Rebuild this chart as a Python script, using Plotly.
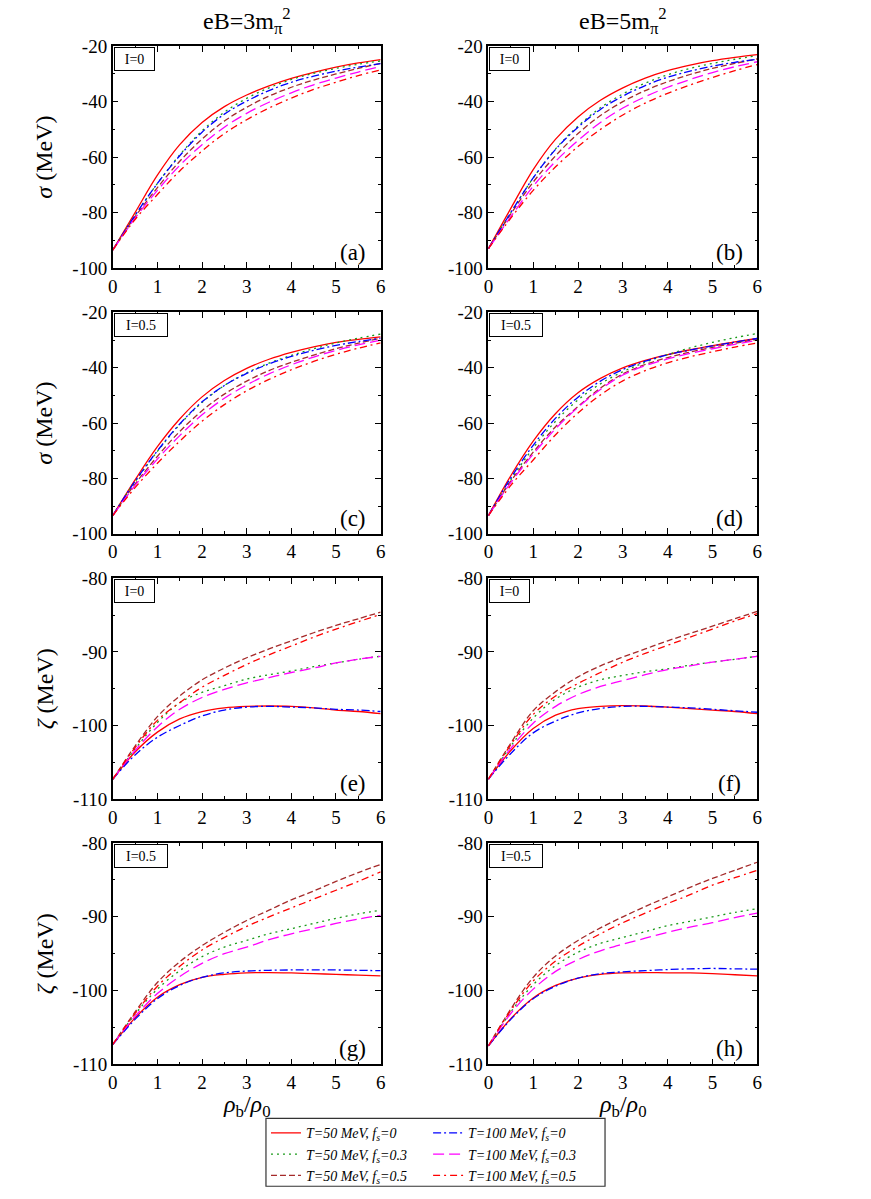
#Sigma and zeta fields vs baryon density, 4x2 panel figure
import plotly.graph_objects as go

#density grid (rho_b/rho_0) shared by every curve
rho = [0, 0.5, 1, 1.5, 2, 2.5, 3, 3.5, 4, 4.5, 5, 5.5, 6]

#series order in every panel:
#T=50 fs=0, T=50 fs=0.3, T=50 fs=0.5, T=100 fs=0, T=100 fs=0.3, T=100 fs=0.5
sigma_a = [[-93.5, -80, -66.5, -55.5, -47.5, -41.8, -37.6, -34.3, -31.6, -29.4, -27.5, -26, -24.8],
           [-93.5, -81, -69.5, -59.2, -50.5, -43.8, -38.8, -35, -32, -29.8, -28, -26.5, -25.3],
           [-93.5, -81.5, -71, -61.5, -53.5, -47, -42, -38, -34.8, -32.2, -30, -28, -26.2],
           [-93.5, -81, -69.5, -59.5, -51, -44.5, -39.8, -36, -33, -30.8, -29, -27.5, -26.3],
           [-93.5, -82, -72, -63, -55.5, -49.2, -44.2, -40.2, -36.8, -33.9, -31.5, -29.3, -27.3],
           [-93.5, -82.5, -73.5, -65, -57.8, -51.5, -46.5, -42.3, -38.7, -35.6, -33, -30.6, -28.5]]
sigma_b = [[-93, -78.5, -64.5, -53.5, -45.5, -39.5, -35, -31.5, -28.8, -26.8, -25.2, -24, -23],
           [-93, -80, -67.5, -57, -48.8, -42.2, -37.2, -33.3, -30.3, -28, -26.2, -24.7, -23.4],
           [-93, -80.5, -69, -59.5, -51.5, -45, -40, -36, -32.8, -30.2, -28, -26.2, -24.6],
           [-93, -80, -67.5, -57.2, -49.2, -42.8, -38, -34.2, -31.2, -29, -27.2, -25.8, -24.7],
           [-93, -81.5, -70.5, -61.5, -54, -47.5, -42.3, -38.2, -34.8, -32, -29.5, -27.4, -25.6],
           [-93, -82, -72, -63.5, -56.2, -50, -44.8, -40.5, -37, -34, -31.3, -28.8, -26.6]]
sigma_c = [[-93.4, -80.5, -68.5, -58.5, -50.5, -44.6, -40.2, -36.9, -34.4, -32.4, -30.8, -29.7, -28.8],
           [-93.4, -81.2, -70.2, -60.5, -52.5, -46.4, -41.8, -38.3, -35.5, -33.1, -31, -29.3, -27.8],
           [-93.4, -82, -72, -63, -55.5, -49.5, -44.8, -41, -38, -35.4, -33.1, -31.1, -29.3],
           [-93.4, -81, -70, -60.3, -52.3, -46.4, -42, -38.6, -35.9, -33.7, -31.9, -30.5, -29.3],
           [-93.4, -82.5, -73, -64.5, -57, -51, -46.2, -42.2, -38.9, -36.1, -33.7, -31.7, -30],
           [-93.4, -83.3, -74.5, -66.5, -59.3, -53.3, -48.3, -44.2, -40.7, -37.7, -35.1, -32.9, -31]]
sigma_d = [[-93.4, -79, -66.5, -56.5, -49, -43.8, -40, -37.3, -35.2, -33.5, -32, -30.6, -29.4],
           [-93.4, -80.5, -69, -59.3, -51.6, -45.8, -41.4, -38, -35.2, -32.8, -30.8, -29.1, -27.6],
           [-93.4, -81, -70.5, -61.3, -54, -47.3, -42.2, -38.8, -36.3, -34.3, -32.6, -31.1, -29.8],
           [-93.4, -79.8, -68, -58.2, -50.6, -44.8, -40.6, -37.6, -35.3, -33.6, -32.1, -30.7, -29.4],
           [-93.4, -81.5, -71.2, -62, -54.3, -47.8, -42.6, -39.2, -36.8, -34.8, -33.1, -31.5, -30],
           [-93.4, -82.5, -73.3, -64.2, -56.3, -49.8, -44.7, -41, -38.2, -36, -34.2, -32.5, -31]]
zeta_e = [[-107.3, -103.6, -100.9, -99.1, -98.1, -97.6, -97.4, -97.35, -97.4, -97.6, -97.9, -98.1, -98.4],
          [-107.3, -103.2, -99.6, -96.9, -95.5, -94.6, -93.7, -93.1, -92.6, -92, -91.5, -91, -90.6],
          [-107.3, -102.8, -98.8, -96, -93.8, -92.2, -90.8, -89.6, -88.5, -87.4, -86.4, -85.5, -84.6],
          [-107.3, -104, -101.6, -100, -98.7, -97.9, -97.5, -97.4, -97.5, -97.6, -97.8, -97.9, -98.1],
          [-107.3, -103.4, -100.2, -97.8, -96.2, -95.1, -94.2, -93.5, -92.8, -92.2, -91.5, -91, -90.6],
          [-107.3, -103, -99.3, -96.9, -94.8, -93.2, -91.7, -90.4, -89.2, -88, -86.9, -85.9, -84.9]]
zeta_f = [[-107.3, -103.4, -100.4, -98.6, -97.7, -97.4, -97.3, -97.35, -97.5, -97.7, -97.9, -98.1, -98.4],
          [-107.3, -102.8, -99, -96.4, -94.8, -93.8, -93.2, -92.7, -92.3, -91.8, -91.4, -91, -90.6],
          [-107.3, -102.4, -98, -95.4, -93.4, -91.9, -90.7, -89.6, -88.5, -87.5, -86.5, -85.5, -84.5],
          [-107.3, -103.8, -101, -99.4, -98.3, -97.7, -97.4, -97.4, -97.5, -97.6, -97.8, -98, -98.2],
          [-107.3, -103.1, -99.7, -97.4, -95.8, -94.7, -93.9, -93.1, -92.4, -91.9, -91.4, -91, -90.6],
          [-107.3, -102.6, -98.5, -96, -94.3, -92.8, -91.4, -90.2, -89.1, -88, -86.9, -85.8, -84.8]]
zeta_g = [[-107.3, -103.7, -100.9, -99.2, -98.2, -97.8, -97.6, -97.55, -97.6, -97.7, -97.8, -97.9, -98],
          [-107.3, -103.2, -99.8, -97.3, -95.4, -94.1, -93.2, -92.3, -91.6, -90.9, -90.2, -89.6, -89.1],
          [-107.3, -102.9, -98.9, -96.1, -93.9, -92.1, -90.5, -89.1, -87.7, -86.5, -85.2, -84, -82.9],
          [-107.3, -103.9, -101.1, -99.3, -98.2, -97.6, -97.35, -97.25, -97.2, -97.2, -97.2, -97.25, -97.3],
          [-107.3, -103.5, -100.4, -98.1, -96.3, -95, -94.1, -93.1, -92.3, -91.6, -90.9, -90.3, -89.8],
          [-107.3, -103.1, -99.4, -96.7, -94.5, -92.8, -91.3, -90, -88.8, -87.6, -86.4, -85.2, -83.9]]
zeta_h = [[-107.5, -103.8, -101, -99.3, -98.3, -97.8, -97.6, -97.55, -97.6, -97.6, -97.7, -97.85, -98],
          [-107.5, -102.9, -99.2, -96.6, -94.8, -93.6, -92.8, -92, -91.2, -90.6, -90, -89.4, -88.9],
          [-107.5, -102.5, -98.2, -95.3, -93.2, -91.5, -90, -88.6, -87.3, -86, -84.8, -83.7, -82.6],
          [-107.5, -103.9, -101.1, -99.4, -98.3, -97.7, -97.45, -97.3, -97.15, -97.05, -97, -97.05, -97.1],
          [-107.5, -103.1, -99.8, -97.4, -95.8, -94.6, -93.7, -92.9, -92.1, -91.4, -90.8, -90.1, -89.5],
          [-107.5, -102.7, -98.7, -96, -94, -92.3, -90.8, -89.5, -88.2, -87, -85.7, -84.7, -83.7]]

series_names = ["T=50 MeV, f<sub>s</sub>=0", "T=50 MeV, f<sub>s</sub>=0.3", "T=50 MeV, f<sub>s</sub>=0.5",
                "T=100 MeV, f<sub>s</sub>=0", "T=100 MeV, f<sub>s</sub>=0.3", "T=100 MeV, f<sub>s</sub>=0.5"]
series_colours = ["#ff0000", "#1a9a1a", "#a52a2a", "#0000ff", "#ff00ff", "#ff0000"]
series_dash = ["solid", "2px,4px", "6px,3px", "8px,3px,2px,3px", "11px,5px", "7px,4px,2px,4px"]
series_legend = ["legend", "legend", "legend", "legend2", "legend2", "legend2"]

#panel setup: data, row, column, letter, isospin text
panels = [(sigma_a, 0, 0, "(a)", "I=0"), (sigma_b, 0, 1, "(b)", "I=0"),
          (sigma_c, 1, 0, "(c)", "I=0.5"), (sigma_d, 1, 1, "(d)", "I=0.5"),
          (zeta_e, 2, 0, "(e)", "I=0"), (zeta_f, 2, 1, "(f)", "I=0"),
          (zeta_g, 3, 0, "(g)", "I=0.5"), (zeta_h, 3, 1, "(h)", "I=0.5")]

W, H = 871, 1199
col_left = [109, 489]
col_right = [380, 761]
font_family = "Liberation Serif"


#the photographed page comes out slightly squeezed in height, so vertical spots are
#given where they should land on the picture and converted here to paper fractions
def page_y(px):
    return 1 - ((px - 8.75) / 0.9833) / H


row_top = [45, 311.5, 577.5, 842.5]
row_bottom = [267, 533, 798.5, 1064]

fig = go.Figure()
annotations = []

for k, (data, row, col, letter, iso) in enumerate(panels, start=1):
    suffix = "" if k == 1 else str(k)
    for i in range(6):
        fig.add_trace(go.Scatter(
            x=rho, y=data[i], mode="lines",
            name=series_names[i],
            line=dict(color=series_colours[i], dash=series_dash[i], width=1.3,
                      shape="spline", smoothing=1.0),
            xaxis="x" + suffix, yaxis="y" + suffix,
            showlegend=(k == 1), legend=series_legend[i],
            hoverinfo="skip"))

    if row < 2:
        yvals = [-100, -80, -60, -40, -20]
        yrange = [-100, -20]
        minor_dy = 10
    else:
        yvals = [-110, -100, -90, -80]
        yrange = [-110, -80]
        minor_dy = 5

    axis_common = dict(showline=True, linecolor="black", linewidth=1.5, mirror="allticks",
                       ticks="inside", ticklen=6, tickwidth=1, tickcolor="black",
                       showgrid=False, zeroline=False,
                       tickfont=dict(family=font_family, size=19, color="black"))
    fig.layout["xaxis" + suffix] = dict(
        axis_common,
        domain=[col_left[col] / W, col_right[col] / W],
        range=[0, 6], anchor="y" + suffix,
        tickvals=[0, 1, 2, 3, 4, 5, 6],
        minor=dict(dtick=0.5, ticks="inside", ticklen=3, tickcolor="black", showgrid=False))
    fig.layout["yaxis" + suffix] = dict(
        axis_common,
        domain=[page_y(row_bottom[row]), page_y(row_top[row])],
        range=yrange, anchor="x" + suffix,
        tickvals=yvals, ticktext=[str(v) for v in yvals],
        minor=dict(dtick=minor_dy, ticks="inside", ticklen=3, tickcolor="black", showgrid=False))

    xd = ("x" if k == 1 else "x" + str(k)) + " domain"
    yd = ("y" if k == 1 else "y" + str(k)) + " domain"
    #panel letter
    annotations.append(dict(xref=xd, yref=yd, x=0.895, y=0.07, text=letter, showarrow=False,
                            xanchor="center", yanchor="middle",
                            font=dict(family=font_family, size=23, color="black")))
    #isospin box
    annotations.append(dict(xref=xd, yref=yd, x=0, y=1, text=iso, showarrow=False,
                            xanchor="left", yanchor="top", xshift=1, yshift=-1,
                            width=37 if iso == "I=0" else 50, height=20,
                            bordercolor="black", borderwidth=1, bgcolor="white",
                            font=dict(family=font_family, size=14, color="black")))

#column titles and x axis titles
for col, txt in enumerate(["eB=3m<sub>π</sub><sup>2</sup>", "eB=5m<sub>π</sub><sup>2</sup>"]):
    annotations.append(dict(xref="paper", yref="paper",
                            x=(col_left[col] + col_right[col]) / 2 / W, y=page_y(20),
                            text=txt, showarrow=False, xanchor="center", yanchor="middle",
                            font=dict(family=font_family, size=24, color="black")))
    annotations.append(dict(xref="paper", yref="paper",
                            x=(col_left[col] + col_right[col]) / 2 / W, y=page_y(1106),
                            text="<i>ρ</i><sub>b</sub>/<i>ρ</i><sub>0</sub>", showarrow=False,
                            xanchor="center", yanchor="middle",
                            font=dict(family=font_family, size=24, color="black")))

#y axis titles
for row in range(4):
    txt = "<i>σ</i> (MeV)" if row < 2 else "<i>ζ</i> (MeV)"
    annotations.append(dict(xref="paper", yref="paper", x=40 / W,
                            y=page_y((row_top[row] + row_bottom[row]) / 2),
                            text=txt, textangle=-90, showarrow=False,
                            xanchor="center", yanchor="middle",
                            font=dict(family=font_family, size=24, color="black")))

#legend frame
legend_font = dict(family=font_family, size=14, color="black", style="italic")
fig.add_shape(type="rect", xref="paper", yref="paper",
              x0=264 / W, x1=607 / W, y0=page_y(1186), y1=page_y(1118),
              line=dict(color="#333333", width=1.2), fillcolor="rgba(0,0,0,0)")

fig.update_layout(
    width=W, height=H,
    margin=dict(l=0, r=0, t=0, b=0),
    paper_bgcolor="white", plot_bgcolor="white",
    font=dict(family=font_family, color="black"),
    annotations=annotations,
    legend=dict(x=264 / W, y=page_y(1117), xanchor="left", yanchor="top",
                bgcolor="rgba(0,0,0,0)", font=legend_font, tracegroupgap=0,
                itemwidth=30),
    legend2=dict(x=428 / W, y=page_y(1117), xanchor="left", yanchor="top",
                 bgcolor="rgba(0,0,0,0)", font=legend_font, tracegroupgap=0,
                 itemwidth=30),
)

#page default margin would push the 871x1199 figure off the window
fig.write_html("out.html", config={"displayModeBar": False},
               post_script="document.body.style.margin='0';document.documentElement.style.overflow='hidden';")
